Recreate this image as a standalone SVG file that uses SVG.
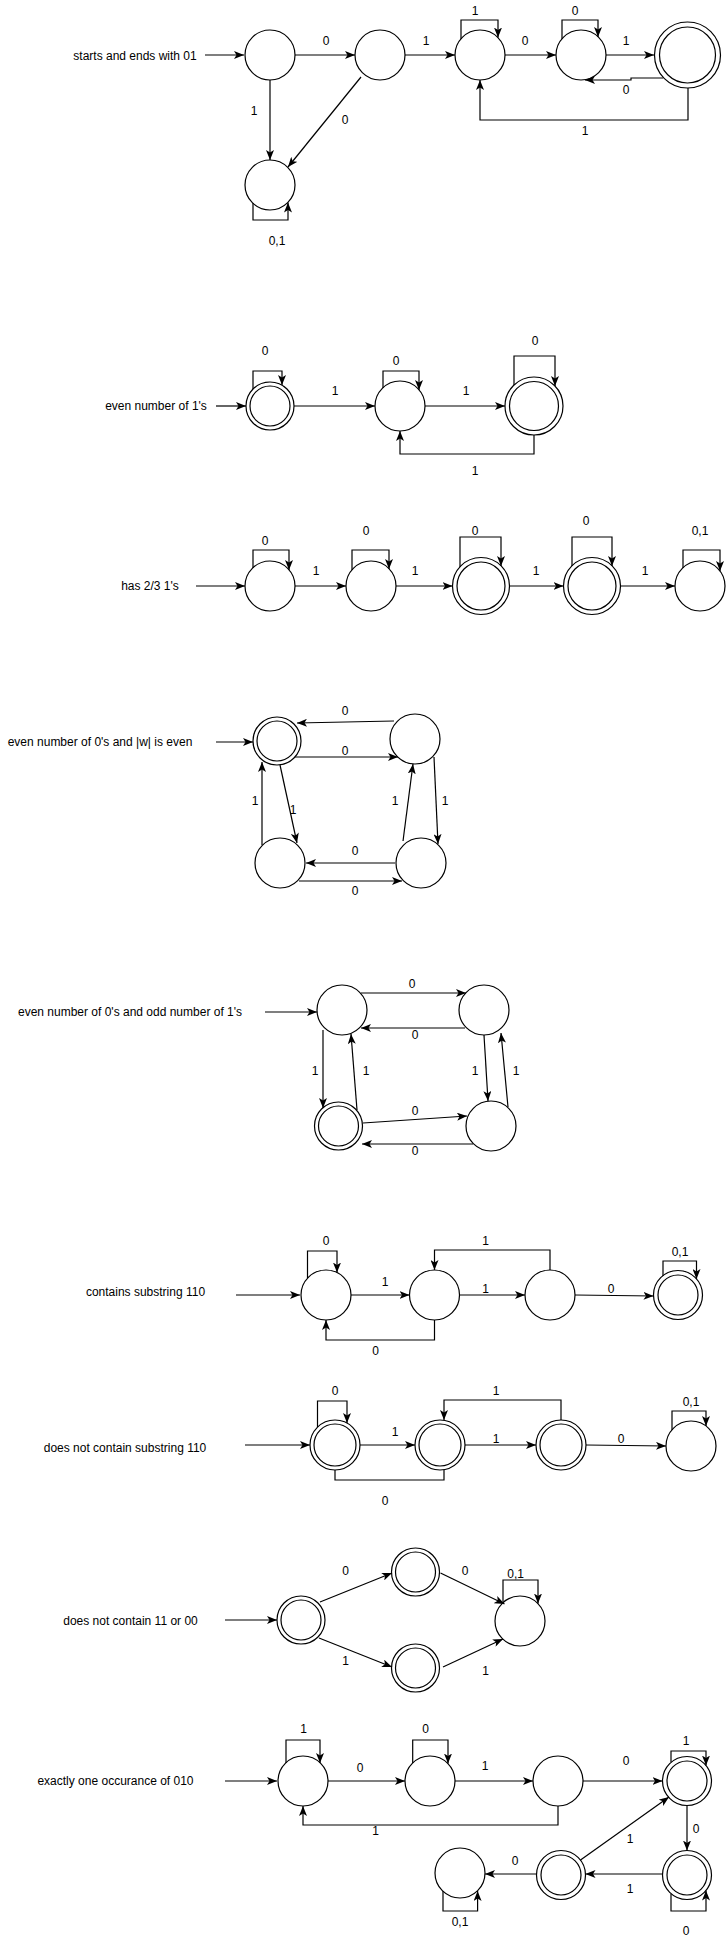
<svg xmlns="http://www.w3.org/2000/svg" width="727" height="1941" viewBox="0 0 727 1941">
<style>
.n{fill:#fff;stroke:#000;stroke-width:1.2}
.i{fill:none;stroke:#000;stroke-width:1.2}
.e{fill:none;stroke:#000;stroke-width:1.2;marker-end:url(#arr)}
.p{fill:none;stroke:#000;stroke-width:1.2}
text{font-family:"Liberation Sans",Arial,sans-serif;font-size:12px;fill:#000}
.l{text-anchor:middle}
.t{text-anchor:middle}
</style>
<defs>
<marker id="arr" viewBox="0 0 10 8" refX="10" refY="4" markerWidth="10" markerHeight="8" orient="auto" markerUnits="userSpaceOnUse">
<path d="M0,0 L10,4 L0,8 L2.5,4 z" fill="#000"/>
</marker>
</defs>
<rect width="727" height="1941" fill="#fff"/>

<!-- Titles -->
<g id="title1"><text class="t" x="135" y="60">starts and ends with 01</text></g>
<g id="title2"><text class="t" x="156" y="410">even number of 1's</text></g>
<g id="title3"><text class="t" x="150" y="590">has 2/3 1's</text></g>
<g id="title4"><text class="t" x="100" y="746">even number of 0's and |w| is even</text></g>
<g id="title5"><text class="t" x="130" y="1016">even number of 0's and odd number of 1's</text></g>
<g id="title6"><text class="t" x="145.5" y="1296">contains substring 110</text></g>
<g id="title7"><text class="t" x="125" y="1452">does not contain substring 110</text></g>
<g id="title8"><text class="t" x="130.5" y="1625">does not contain 11 or 00</text></g>
<g id="title9"><text class="t" x="115.5" y="1785">exactly one occurance of 010</text></g>

<!-- Section 1 nodes -->
<g id="s1A"><circle class="n" cx="270" cy="55" r="25"/></g>
<g id="s1B"><circle class="n" cx="380" cy="55" r="25"/></g>
<g id="s1C"><circle class="n" cx="480" cy="55" r="25"/></g>
<g id="s1D"><circle class="n" cx="581" cy="55" r="25"/></g>
<g id="s1E"><circle class="n" cx="687.5" cy="55" r="33"/><circle class="i" cx="687.5" cy="55" r="28"/></g>
<g id="s1F"><circle class="n" cx="270" cy="185" r="25"/></g>

<!-- Section 2 nodes -->
<g id="s2G"><circle class="n" cx="270" cy="406" r="24"/><circle class="i" cx="270" cy="406" r="20"/></g>
<g id="s2H"><circle class="n" cx="400" cy="406" r="25"/></g>
<g id="s2I"><circle class="n" cx="534" cy="406" r="29"/><circle class="i" cx="534" cy="406" r="24.5"/></g>

<!-- Section 3 nodes -->
<g id="s3J"><circle class="n" cx="270" cy="586" r="25"/></g>
<g id="s3K"><circle class="n" cx="371" cy="586" r="25"/></g>
<g id="s3L"><circle class="n" cx="481" cy="586" r="28.5"/><circle class="i" cx="481" cy="586" r="24"/></g>
<g id="s3M"><circle class="n" cx="592" cy="586" r="28.5"/><circle class="i" cx="592" cy="586" r="24"/></g>
<g id="s3N"><circle class="n" cx="700" cy="586" r="25"/></g>

<!-- Section 4 nodes -->
<g id="s4P"><circle class="n" cx="277" cy="741" r="24"/><circle class="i" cx="277" cy="741" r="20"/></g>
<g id="s4Q"><circle class="n" cx="415" cy="739" r="25"/></g>
<g id="s4R"><circle class="n" cx="280" cy="863" r="25"/></g>
<g id="s4S"><circle class="n" cx="421" cy="863" r="25"/></g>

<!-- Section 5 nodes -->
<g id="s5T"><circle class="n" cx="342" cy="1010" r="25"/></g>
<g id="s5U"><circle class="n" cx="484" cy="1010" r="25"/></g>
<g id="s5V"><circle class="n" cx="338.5" cy="1126" r="24"/><circle class="i" cx="338.5" cy="1126" r="20"/></g>
<g id="s5W"><circle class="n" cx="491" cy="1126" r="25"/></g>

<!-- Section 6 nodes -->
<g id="s6X1"><circle class="n" cx="326" cy="1295" r="25"/></g>
<g id="s6X2"><circle class="n" cx="434.5" cy="1295" r="25"/></g>
<g id="s6X3"><circle class="n" cx="550" cy="1295" r="25"/></g>
<g id="s6X4"><circle class="n" cx="678" cy="1295" r="24.5"/><circle class="i" cx="678" cy="1295" r="20"/></g>

<!-- Section 7 nodes -->
<g id="s7Y1"><circle class="n" cx="335" cy="1445" r="25"/><circle class="i" cx="335" cy="1445" r="21"/></g>
<g id="s7Y2"><circle class="n" cx="440" cy="1445" r="25"/><circle class="i" cx="440" cy="1445" r="21"/></g>
<g id="s7Y3"><circle class="n" cx="561" cy="1445" r="25"/><circle class="i" cx="561" cy="1445" r="21"/></g>
<g id="s7Y4"><circle class="n" cx="691" cy="1446" r="25"/></g>

<!-- Section 8 nodes -->
<g id="s8Z1"><circle class="n" cx="301" cy="1620" r="24"/><circle class="i" cx="301" cy="1620" r="20"/></g>
<g id="s8Z2"><circle class="n" cx="415.5" cy="1572" r="24"/><circle class="i" cx="415.5" cy="1572" r="20"/></g>
<g id="s8Z3"><circle class="n" cx="415.5" cy="1668" r="24"/><circle class="i" cx="415.5" cy="1668" r="20"/></g>
<g id="s8Z4"><circle class="n" cx="520" cy="1621" r="25"/></g>

<!-- Section 9 nodes -->
<g id="s9AA"><circle class="n" cx="303" cy="1781" r="25"/></g>
<g id="s9AB"><circle class="n" cx="430" cy="1781" r="25"/></g>
<g id="s9AC"><circle class="n" cx="558" cy="1781" r="25"/></g>
<g id="s9AD"><circle class="n" cx="687" cy="1781" r="24.5"/><circle class="i" cx="687" cy="1781" r="20"/></g>
<g id="s9AE"><circle class="n" cx="687" cy="1875" r="24.5"/><circle class="i" cx="687" cy="1875" r="20"/></g>
<g id="s9AF"><circle class="n" cx="561" cy="1875" r="24.5"/><circle class="i" cx="561" cy="1875" r="20"/></g>
<g id="s9AG"><circle class="n" cx="460" cy="1873" r="25"/></g>

<g id="connectors">
<!-- Section 1 -->
<path class="e" d="M205,55 L244,55"/>
<path class="e" d="M295,55 L355,55"/>
<path class="e" d="M405,55 L455,55"/>
<path class="e" d="M505,55 L556,55"/>
<path class="e" d="M606,55 L654,55"/>
<path class="e" d="M663,78 L631,78 L631,80 L585,80"/>
<path class="e" d="M688,88 L688,120 L480,120 L480,80"/>
<path class="e" d="M461,39 L461,20 L498,20 L498,37.5"/>
<path class="e" d="M562,39 L562,20 L598,20 L598,37"/>
<path class="e" d="M270,80 L270,160"/>
<path class="e" d="M361,77 L288,167"/>
<path class="e" d="M253,203 L253,220 L288,220 L288,202.5"/>
<!-- Section 2 -->
<path class="e" d="M216,406 L246,406"/>
<path class="e" d="M294,406 L375,406"/>
<path class="e" d="M425,406 L505,406"/>
<path class="e" d="M534,435 L534,454 L400,454 L400,431"/>
<path class="e" d="M253,389 L253,371 L282,371 L282,385"/>
<path class="e" d="M383,388 L383,371 L419,371 L419,390"/>
<path class="e" d="M514,385 L514,356 L555,356 L555,386"/>
<!-- Section 3 -->
<path class="e" d="M196,586 L245,586"/>
<path class="e" d="M295,586 L346,586"/>
<path class="e" d="M396,586 L452.5,586"/>
<path class="e" d="M509.5,586 L563.5,586"/>
<path class="e" d="M620.5,586 L675,586"/>
<path class="e" d="M253,568 L253,550 L289,550 L289,570"/>
<path class="e" d="M352,570 L352,550 L389,550 L389,569"/>
<path class="e" d="M460,567 L460,537 L501,537 L501,566"/>
<path class="e" d="M572,566 L572,537 L612,537 L612,566"/>
<path class="e" d="M683,568 L683,550 L720,550 L720,571"/>
<!-- Section 4 -->
<path class="e" d="M216,742 L253,742"/>
<path class="e" d="M394,721 L297,723"/>
<path class="e" d="M295,757 L398,757"/>
<path class="e" d="M262,845 L262,762"/>
<path class="e" d="M280,765 L297,843"/>
<path class="e" d="M403,841 L413,764"/>
<path class="e" d="M434,757 L438,844"/>
<path class="e" d="M395,863 L306,863"/>
<path class="e" d="M299,881 L402,881"/>
<!-- Section 5 -->
<path class="e" d="M265,1012 L317,1012"/>
<path class="e" d="M361,993 L466,993"/>
<path class="e" d="M465,1028 L361,1028"/>
<path class="e" d="M323,1030 L323,1108"/>
<path class="e" d="M357,1110 L351,1034"/>
<path class="e" d="M484,1035 L488,1101"/>
<path class="e" d="M508,1107 L501,1033"/>
<path class="e" d="M363,1123 L467,1116"/>
<path class="e" d="M473,1144 L362,1144"/>
<!-- Section 6 -->
<path class="e" d="M236,1295 L300,1295"/>
<path class="e" d="M351,1295 L409.5,1295"/>
<path class="e" d="M459.5,1295 L525,1295"/>
<path class="e" d="M575,1295 L653.5,1296"/>
<path class="e" d="M550,1270 L550,1250 L434.5,1250 L434.5,1270"/>
<path class="e" d="M434.5,1320 L434.5,1340 L326,1340 L326,1320"/>
<path class="e" d="M307.5,1278 L307.5,1251 L337,1251 L337,1272.5"/>
<path class="e" d="M663,1276 L663,1261 L696.5,1261 L696.5,1279"/>
<!-- Section 7 -->
<path class="e" d="M245,1445 L310,1445"/>
<path class="e" d="M360,1445 L415,1445"/>
<path class="e" d="M465,1445 L536,1445"/>
<path class="e" d="M586,1445 L666,1446"/>
<path class="e" d="M561,1420 L561,1400 L444,1400 L444,1420"/>
<path class="p" d="M335,1470 L335,1480 L444,1480 L444,1470"/>
<path class="e" d="M317.5,1427 L317.5,1401 L347,1401 L347,1423"/>
<path class="e" d="M672,1430 L672,1411 L706,1411 L706,1426"/>
<!-- Section 8 -->
<path class="e" d="M225,1620 L277,1620"/>
<path class="e" d="M320,1602 L392,1573"/>
<path class="e" d="M319,1638 L392,1667"/>
<path class="e" d="M440.5,1573 L504.5,1604"/>
<path class="e" d="M443,1667 L503,1639"/>
<path class="e" d="M503,1603 L503,1580 L538,1580 L538,1603.5"/>
<!-- Section 9 -->
<path class="e" d="M225,1781 L277,1781"/>
<path class="e" d="M328,1781 L405,1781"/>
<path class="e" d="M455,1781 L533,1781"/>
<path class="e" d="M583,1781 L662.5,1781"/>
<path class="e" d="M558,1806 L558,1825 L303,1825 L303,1806"/>
<path class="e" d="M687,1805.5 L687,1850.5"/>
<path class="e" d="M662.5,1874 L585.5,1874"/>
<path class="e" d="M580.5,1860 L669,1797"/>
<path class="e" d="M536.5,1874 L485,1874"/>
<path class="e" d="M286,1763 L286,1740 L320,1740 L320,1763"/>
<path class="e" d="M412.7,1763 L412.7,1740 L448,1740 L448,1763.5"/>
<path class="e" d="M671,1762 L671,1751 L706,1751 L706,1765.5"/>
<path class="e" d="M671,1894 L671,1911 L706,1911 L706,1890.5"/>
<path class="e" d="M443,1891 L443,1911 L477.6,1911 L477.6,1891"/>

<!-- Edge labels -->
<g class="l">
<text class="l" x="326" y="45">0</text>
<text class="l" x="426" y="45">1</text>
<text class="l" x="525" y="45">0</text>
<text class="l" x="626" y="45">1</text>
<text class="l" x="626" y="94">0</text>
<text class="l" x="585" y="135">1</text>
<text class="l" x="475" y="15">1</text>
<text class="l" x="575" y="15">0</text>
<text class="l" x="254" y="115">1</text>
<text class="l" x="345" y="124">0</text>
<text class="l" x="277" y="245">0,1</text>

<text class="l" x="335" y="395">1</text>
<text class="l" x="466" y="395">1</text>
<text class="l" x="475" y="475">1</text>
<text class="l" x="265" y="355">0</text>
<text class="l" x="396" y="365">0</text>
<text class="l" x="535" y="345">0</text>

<text class="l" x="316" y="575">1</text>
<text class="l" x="415" y="575">1</text>
<text class="l" x="536" y="575">1</text>
<text class="l" x="645" y="575">1</text>
<text class="l" x="265" y="545">0</text>
<text class="l" x="366" y="535">0</text>
<text class="l" x="475" y="535">0</text>
<text class="l" x="586" y="525">0</text>
<text class="l" x="700" y="535">0,1</text>

<text class="l" x="345" y="715">0</text>
<text class="l" x="345" y="755">0</text>
<text class="l" x="255" y="805">1</text>
<text class="l" x="293" y="814">1</text>
<text class="l" x="395" y="805">1</text>
<text class="l" x="445" y="805">1</text>
<text class="l" x="355" y="855">0</text>
<text class="l" x="355" y="895">0</text>

<text class="l" x="412" y="988">0</text>
<text class="l" x="415" y="1039">0</text>
<text class="l" x="315" y="1075">1</text>
<text class="l" x="366" y="1075">1</text>
<text class="l" x="475" y="1075">1</text>
<text class="l" x="516" y="1075">1</text>
<text class="l" x="415" y="1115">0</text>
<text class="l" x="415" y="1155">0</text>

<text class="l" x="385" y="1286">1</text>
<text class="l" x="485.5" y="1293">1</text>
<text class="l" x="611" y="1293">0</text>
<text class="l" x="485.5" y="1245">1</text>
<text class="l" x="375.6" y="1355">0</text>
<text class="l" x="326" y="1245">0</text>
<text class="l" x="680" y="1256">0,1</text>

<text class="l" x="395" y="1436">1</text>
<text class="l" x="496" y="1443">1</text>
<text class="l" x="621" y="1443">0</text>
<text class="l" x="496" y="1395">1</text>
<text class="l" x="385" y="1505">0</text>
<text class="l" x="335" y="1395">0</text>
<text class="l" x="691" y="1406">0,1</text>

<text class="l" x="345.5" y="1575">0</text>
<text class="l" x="345.5" y="1665">1</text>
<text class="l" x="465" y="1575">0</text>
<text class="l" x="485.5" y="1675">1</text>
<text class="l" x="515.6" y="1578">0,1</text>

<text class="l" x="360" y="1772">0</text>
<text class="l" x="485" y="1770">1</text>
<text class="l" x="626" y="1765">0</text>
<text class="l" x="375.6" y="1835">1</text>
<text class="l" x="696" y="1833">0</text>
<text class="l" x="630" y="1893">1</text>
<text class="l" x="630" y="1843">1</text>
<text class="l" x="515" y="1865">0</text>
<text class="l" x="303.7" y="1733">1</text>
<text class="l" x="425.7" y="1733">0</text>
<text class="l" x="686" y="1745">1</text>
<text class="l" x="686" y="1935">0</text>
<text class="l" x="460" y="1926">0,1</text>
</g>
</g>
</svg>
